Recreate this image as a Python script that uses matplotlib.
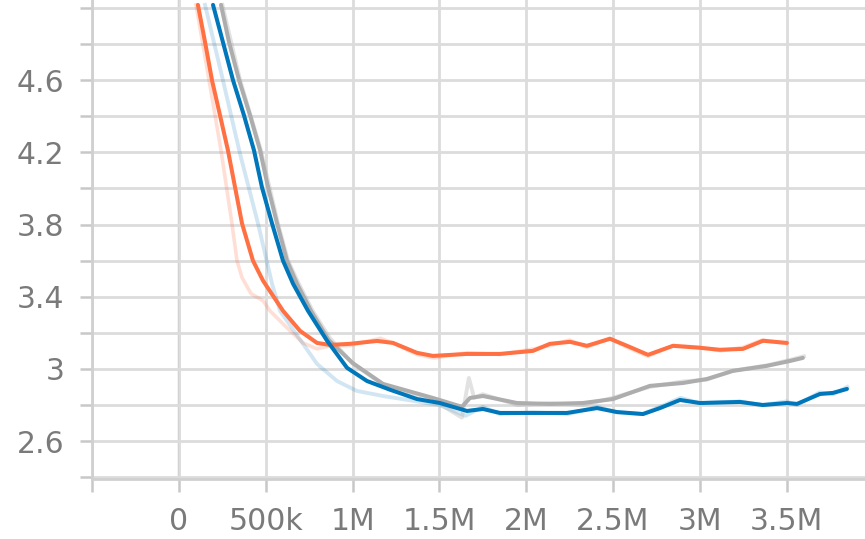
import matplotlib
matplotlib.use("Agg")
import matplotlib.pyplot as plt
from matplotlib.ticker import MultipleLocator, FuncFormatter

# training steps (millions) and loss, smoothed runs
orange_x = [0.109, 0.150, 0.190, 0.236, 0.282, 0.323, 0.363, 0.426, 0.484, 0.599,
            0.697, 0.795, 0.870, 0.985, 1.141, 1.233, 1.371, 1.463, 1.659, 1.849,
            2.039, 2.137, 2.252, 2.35, 2.483, 2.581, 2.702, 2.846, 3.001, 3.116,
            3.249, 3.364, 3.502]
orange_y = [5.017, 4.811, 4.6, 4.406, 4.211, 4.006, 3.806, 3.6, 3.489, 3.322,
            3.211, 3.144, 3.133, 3.139, 3.155, 3.144, 3.089, 3.072, 3.083, 3.083,
            3.1, 3.139, 3.15, 3.128, 3.167, 3.128, 3.078, 3.128, 3.117, 3.106,
            3.111, 3.156, 3.144]

blue_x = [0.196, 0.253, 0.311, 0.374, 0.432, 0.478, 0.536, 0.599, 0.657, 0.743,
          0.853, 0.968, 1.083, 1.215, 1.371, 1.503, 1.659, 1.751, 1.849, 2.039,
          2.235, 2.408, 2.523, 2.673, 2.771, 2.886, 3.001, 3.232, 3.364, 3.502,
          3.56, 3.692, 3.767, 3.848]
blue_y = [5.017, 4.811, 4.6, 4.406, 4.211, 4.006, 3.806, 3.6, 3.472, 3.322,
          3.156, 3.006, 2.933, 2.885, 2.833, 2.811, 2.767, 2.778, 2.756, 2.756,
          2.756, 2.783, 2.761, 2.75, 2.783, 2.828, 2.811, 2.817, 2.8, 2.811,
          2.806, 2.861, 2.867, 2.889]

gray_x = [0.242, 0.288, 0.346, 0.409, 0.467, 0.513, 0.565, 0.622, 0.680, 0.760,
          0.862, 1.0, 1.175, 1.463, 1.63, 1.676, 1.751, 1.947, 2.137, 2.327, 2.5,
          2.713, 2.903, 3.041, 3.191, 3.387, 3.52, 3.594]
gray_y = [5.017, 4.811, 4.6, 4.406, 4.211, 4.006, 3.806, 3.6, 3.472, 3.322,
          3.16, 3.033, 2.917, 2.839, 2.79, 2.839, 2.85, 2.811, 2.806, 2.811, 2.833,
          2.906, 2.922, 2.944, 2.989, 3.017, 3.044, 3.061]

# raw (unsmoothed) values, drawn faint underneath
orange_raw_x = [0.098, 0.173, 0.242, 0.305, 0.334, 0.363, 0.415, 0.484, 0.524, 0.622,
                0.714, 0.795, 0.870, 0.99, 1.16, 1.24, 1.37, 1.47, 1.66, 1.85, 2.04,
                2.14, 2.25, 2.35, 2.48, 2.58, 2.70, 2.85, 3.0, 3.12, 3.25, 3.36, 3.50]
orange_raw_y = [5.017, 4.6, 4.211, 3.806, 3.6, 3.506, 3.417, 3.378, 3.322, 3.228,
                3.144, 3.111, 3.128, 3.13, 3.17, 3.14, 3.08, 3.06, 3.09, 3.08, 3.11,
                3.13, 3.16, 3.12, 3.17, 3.12, 3.07, 3.13, 3.12, 3.10, 3.12, 3.16, 3.14]

blue_raw_x = [0.150, 0.253, 0.351, 0.455, 0.536, 0.582, 0.795, 0.910, 1.025, 1.175,
              1.37, 1.50, 1.65, 1.75, 1.85, 2.04, 2.24, 2.41, 2.52, 2.67, 2.77, 2.89,
              3.0, 3.23, 3.36, 3.50, 3.56, 3.69, 3.77, 3.85]
blue_raw_y = [5.017, 4.6, 4.194, 3.806, 3.472, 3.322, 3.028, 2.933, 2.878, 2.85,
              2.82, 2.80, 2.74, 2.79, 2.75, 2.76, 2.75, 2.79, 2.76, 2.75, 2.79, 2.84,
              2.81, 2.82, 2.80, 2.82, 2.80, 2.87, 2.86, 2.90]

gray_raw_x = [0.250, 0.352, 0.472, 0.570, 0.628, 0.690, 0.770, 0.87, 1.0, 1.18, 1.46,
              1.63, 1.67, 1.70, 1.75, 1.95, 2.14, 2.33, 2.5, 2.71, 2.9, 3.04, 3.19,
              3.39, 3.52, 3.60]
gray_raw_y = [5.017, 4.6, 4.211, 3.806, 3.6, 3.472, 3.322, 3.17, 3.03, 2.91, 2.83,
              2.73, 2.95, 2.84, 2.86, 2.80, 2.81, 2.80, 2.84, 2.90, 2.93, 2.94, 2.99,
              3.02, 3.05, 3.07]

ORANGE = "#ff7043"
BLUE = "#0077bb"
GRAY = "#adadad"

fig = plt.figure(figsize=(8.65, 5.39), dpi=100)
ax = fig.add_axes([0.1064, 0.1113, 0.8936, 0.8887])

def steps(xs):
    return [v * 1e6 for v in xs]

ax.plot(steps(orange_raw_x), orange_raw_y, color=ORANGE, alpha=0.22, lw=2.6,
        solid_joinstyle="round", zorder=2)
ax.plot(steps(blue_raw_x), blue_raw_y, color=BLUE, alpha=0.18, lw=2.8,
        solid_joinstyle="round", zorder=2)
ax.plot(steps(gray_raw_x), gray_raw_y, color=GRAY, alpha=0.35, lw=2.8,
        solid_joinstyle="round", zorder=2)

for xs, ys, c, z in [(gray_x, gray_y, GRAY, 3), (orange_x, orange_y, ORANGE, 4),
                     (blue_x, blue_y, BLUE, 5)]:
    ax.plot(steps(xs), ys, color=c, lw=2.9, solid_joinstyle="round",
            solid_capstyle="round", zorder=z)

ax.set_xlim(-0.501e6, 3.952e6)
ax.set_ylim(2.39, 5.044)

ax.axvline(0, color="#8a8a8a", lw=1.6, zorder=1)

ax.xaxis.set_major_locator(MultipleLocator(500000))
ax.yaxis.set_major_locator(MultipleLocator(0.2))

def fmt_x(v, pos):
    if v < 0:
        return ""
    if v == 0:
        return "0"
    if v < 1e6:
        return "%gk" % (v / 1e3)
    return "%gM" % (v / 1e6)

def fmt_y(v, pos):
    k = round(v / 0.2)
    if k % 2 == 1 and v < 4.7:
        return "%g" % round(v, 1)
    return ""

ax.xaxis.set_major_formatter(FuncFormatter(fmt_x))
ax.yaxis.set_major_formatter(FuncFormatter(fmt_y))

ax.grid(True, color="#dcdcdc", lw=2.0, zorder=0)
for s in ["top", "right"]:
    ax.spines[s].set_visible(False)
for s in ["left", "bottom"]:
    ax.spines[s].set_color("#d0d0d0")
    ax.spines[s].set_linewidth(2.0)

ax.tick_params(axis="both", colors="#c8c8c8", width=1.8, length=9,
               labelcolor="#7a7a7a", labelsize=21.5)
ax.tick_params(axis="x", pad=11)
ax.tick_params(axis="y", pad=11)

fig.savefig("out.png", dpi=100)
